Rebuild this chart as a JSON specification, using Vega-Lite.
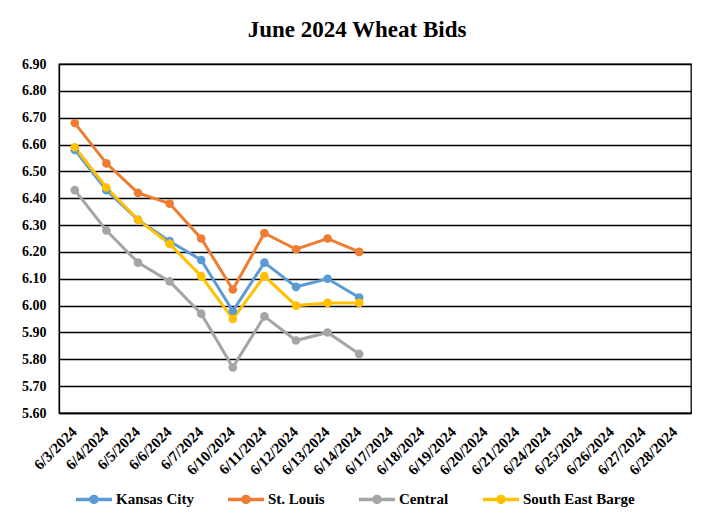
{
  "$schema": "https://vega.github.io/schema/vega-lite/v6.json",
  "width": 632,
  "height": 349,
  "autosize": {"type": "none"},
  "padding": {"left": 59, "top": 64, "right": 18, "bottom": 107},
  "background": "white",
  "title": {
    "text": "June 2024 Wheat Bids",
    "font": "Liberation Serif",
    "fontSize": 23,
    "fontWeight": "bold",
    "color": "black",
    "anchor": "middle",
    "dx": -18,
    "offset": 15
  },
  "data": {
    "values": [
      {"date": "6/3/2024", "series": "Kansas City", "price": 6.58},
      {"date": "6/4/2024", "series": "Kansas City", "price": 6.43},
      {"date": "6/5/2024", "series": "Kansas City", "price": 6.32},
      {"date": "6/6/2024", "series": "Kansas City", "price": 6.24},
      {"date": "6/7/2024", "series": "Kansas City", "price": 6.17},
      {"date": "6/10/2024", "series": "Kansas City", "price": 5.98},
      {"date": "6/11/2024", "series": "Kansas City", "price": 6.16},
      {"date": "6/12/2024", "series": "Kansas City", "price": 6.07},
      {"date": "6/13/2024", "series": "Kansas City", "price": 6.10},
      {"date": "6/14/2024", "series": "Kansas City", "price": 6.03},
      {"date": "6/3/2024", "series": "St. Louis", "price": 6.68},
      {"date": "6/4/2024", "series": "St. Louis", "price": 6.53},
      {"date": "6/5/2024", "series": "St. Louis", "price": 6.42},
      {"date": "6/6/2024", "series": "St. Louis", "price": 6.38},
      {"date": "6/7/2024", "series": "St. Louis", "price": 6.25},
      {"date": "6/10/2024", "series": "St. Louis", "price": 6.06},
      {"date": "6/11/2024", "series": "St. Louis", "price": 6.27},
      {"date": "6/12/2024", "series": "St. Louis", "price": 6.21},
      {"date": "6/13/2024", "series": "St. Louis", "price": 6.25},
      {"date": "6/14/2024", "series": "St. Louis", "price": 6.20},
      {"date": "6/3/2024", "series": "Central", "price": 6.43},
      {"date": "6/4/2024", "series": "Central", "price": 6.28},
      {"date": "6/5/2024", "series": "Central", "price": 6.16},
      {"date": "6/6/2024", "series": "Central", "price": 6.09},
      {"date": "6/7/2024", "series": "Central", "price": 5.97},
      {"date": "6/10/2024", "series": "Central", "price": 5.77},
      {"date": "6/11/2024", "series": "Central", "price": 5.96},
      {"date": "6/12/2024", "series": "Central", "price": 5.87},
      {"date": "6/13/2024", "series": "Central", "price": 5.90},
      {"date": "6/14/2024", "series": "Central", "price": 5.82},
      {"date": "6/3/2024", "series": "South East Barge", "price": 6.59},
      {"date": "6/4/2024", "series": "South East Barge", "price": 6.44},
      {"date": "6/5/2024", "series": "South East Barge", "price": 6.32},
      {"date": "6/6/2024", "series": "South East Barge", "price": 6.23},
      {"date": "6/7/2024", "series": "South East Barge", "price": 6.11},
      {"date": "6/10/2024", "series": "South East Barge", "price": 5.95},
      {"date": "6/11/2024", "series": "South East Barge", "price": 6.11},
      {"date": "6/12/2024", "series": "South East Barge", "price": 6.00},
      {"date": "6/13/2024", "series": "South East Barge", "price": 6.01},
      {"date": "6/14/2024", "series": "South East Barge", "price": 6.01}
    ]
  },
  "encoding": {
    "x": {
      "field": "date",
      "type": "ordinal",
      "sort": null,
      "scale": {
        "domain": ["6/3/2024", "6/4/2024", "6/5/2024", "6/6/2024", "6/7/2024", "6/10/2024", "6/11/2024", "6/12/2024", "6/13/2024", "6/14/2024", "6/17/2024", "6/18/2024", "6/19/2024", "6/20/2024", "6/21/2024", "6/24/2024", "6/25/2024", "6/26/2024", "6/27/2024", "6/28/2024"],
        "padding": 0.5
      },
      "axis": {
        "title": null,
        "labelAngle": -45,
        "labelFont": "Liberation Serif",
        "labelFontSize": 15,
        "labelFontWeight": "bold",
        "labelColor": "black",
        "labelPadding": 11,
        "labelOffset": -6,
        "ticks": false,
        "grid": false,
        "domainColor": "black",
        "domainWidth": 1.3,
        "labelOverlap": false
      }
    },
    "y": {
      "field": "price",
      "type": "quantitative",
      "scale": {"domain": [5.6, 6.9], "nice": false, "zero": false},
      "axis": {
        "title": null,
        "values": [5.6, 5.7, 5.8, 5.9, 6.0, 6.1, 6.2, 6.3, 6.4, 6.5, 6.6, 6.7, 6.8, 6.9],
        "format": ".2f",
        "labelFont": "Liberation Serif",
        "labelFontSize": 14,
        "labelFontWeight": "bold",
        "labelColor": "black",
        "labelPadding": 13,
        "ticks": false,
        "grid": true,
        "gridColor": "black",
        "gridWidth": 1.3,
        "gridOpacity": 1,
        "domainColor": "black",
        "domainWidth": 1.3
      }
    },
    "color": {
      "field": "series",
      "type": "nominal",
      "scale": {
        "domain": ["Kansas City", "St. Louis", "Central", "South East Barge"],
        "range": ["#5B9BD5", "#ED7D31", "#A5A5A5", "#FFC000"]
      },
      "legend": {
        "title": null,
        "orient": "none",
        "direction": "horizontal",
        "legendX": 15,
        "legendY": 415,
        "symbolType": "M-1,0H1M-0.17,0A0.17,0.17,0,1,0,0.17,0A0.17,0.17,0,1,0,-0.17,0",
        "symbolSize": 1296,
        "symbolStrokeWidth": 3.5,
        "labelFont": "Liberation Serif",
        "labelFontSize": 15,
        "labelFontWeight": "bold",
        "labelColor": "black",
        "labelOffset": 2,
        "columnPadding": 27
      }
    }
  },
  "layer": [
    {"mark": {"type": "line", "strokeWidth": 3}},
    {"mark": {"type": "point", "filled": true, "size": 75, "opacity": 1}}
  ],
  "config": {
    "font": "Liberation Serif",
    "view": {"stroke": "black", "strokeWidth": 1.3}
  }
}
